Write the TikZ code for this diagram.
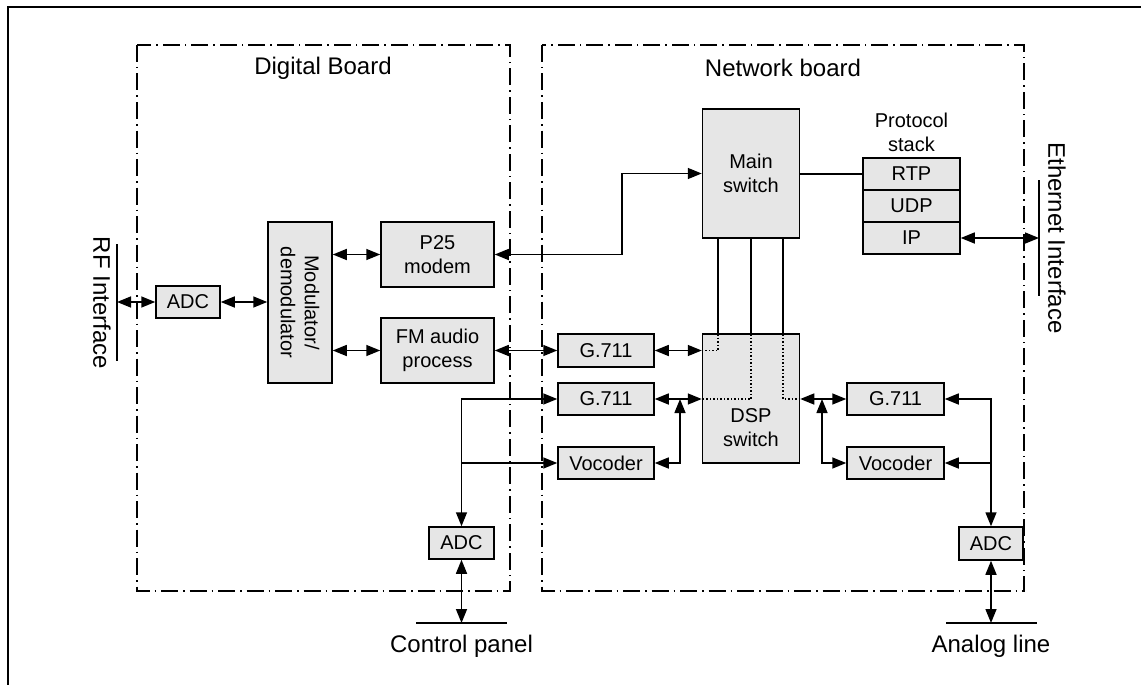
\documentclass[tikz,border=0pt]{standalone}
\usepackage{fontspec}
\setmainfont{Liberation Sans}
\usetikzlibrary{arrows.meta}
\definecolor{boxgray}{HTML}{E6E6E6}
\newcommand{\boxfont}{\fontsize{20}{24}\selectfont}
\newcommand{\bigfont}{\fontsize{24}{28}\selectfont}
\tikzset{
  wire/.style={line width=1.5pt},
  blk/.style={draw, fill=boxgray, line width=1.5pt, inner sep=0pt, align=center, font=\boxfont},
  lbl/.style={inner sep=0pt, align=center, font=\boxfont},
  biglbl/.style={inner sep=0pt, align=center, font=\bigfont},
  board/.style={line width=1.5pt, dash pattern=on 17pt off 5pt on 1.5pt off 5pt},
  inner/.style={line width=1.3pt, dash pattern=on 1.5pt off 2pt},
  >={Triangle[length=14pt,width=11pt]},
}
\begin{document}
\begin{tikzpicture}[x=1pt,y=-1pt]
\useasboundingbox (0,0) rectangle (1141,685);

% outer frame
\draw[line width=2.8pt] (8,685) -- (8,7) -- (1141,7);

% boards
\draw[board] (137,45) rectangle (510,591);
\draw[board] (542,45) rectangle (1024,591);
\node[biglbl] (digtitle) at (323,68) {Digital Board};
\node[biglbl] (nettitle) at (783,68) {Network board};

% digital board blocks
\node[blk, minimum width=64pt, minimum height=32pt] (adcL) at (188,302) {ADC};
\node[blk, minimum width=64pt, minimum height=161pt] (mod) at (300,302.5) {};
\node[lbl, rotate=-90] (modtext) at (mod.center) {Modulator/\\demodulator};
\node[blk, minimum width=113pt, minimum height=65pt] (p25) at (437.5,254.5) {P25\\modem};
\node[blk, minimum width=113pt, minimum height=65pt] (fm) at (437.5,350.5) {FM audio\\process};
\node[blk, minimum width=65pt, minimum height=32pt] (adcC) at (461.5,543) {ADC};

% network board blocks
\node[blk, minimum width=97pt, minimum height=129pt] (ms) at (751,173.5) {Main\\switch};
\node[blk, minimum width=97pt, minimum height=129pt] (dsp) at (751,398.5) {};
\node[lbl] (dsptext) at (751,428) {DSP\\switch};
\node[lbl] (stacktext) at (911.5,132) {Protocol\\stack};
\node[blk, minimum width=97pt, minimum height=32pt] (rtp) at (911.5,174) {RTP};
\node[blk, minimum width=97pt, minimum height=32pt] (udp) at (911.5,206) {UDP};
\node[blk, minimum width=97pt, minimum height=32pt] (ip) at (911.5,238) {IP};
\node[blk, minimum width=96pt, minimum height=33pt] (g1) at (606,350.5) {G.711};
\node[blk, minimum width=96pt, minimum height=32pt] (g2) at (606,399) {G.711};
\node[blk, minimum width=96pt, minimum height=32pt] (vocL) at (606,463) {Vocoder};
\node[blk, minimum width=97pt, minimum height=32pt] (g3) at (895.5,399) {G.711};
\node[blk, minimum width=97pt, minimum height=32pt] (vocR) at (895.5,463) {Vocoder};
\node[blk, minimum width=64pt, minimum height=33pt] (adcA) at (991,543.5) {ADC};

% external interfaces
\coordinate (rfTop) at (117,244);
\coordinate (rfBot) at (117,361);
\coordinate (rf) at (117,302);
\draw[wire] (rfTop) -- (rfBot);
\node[biglbl, rotate=-90] (rftext) at (102,303) {RF Interface};

\coordinate (ethTop) at (1039,180);
\coordinate (ethBot) at (1039,296);
\draw[wire] (ethTop) -- (ethBot);
\node[biglbl, rotate=-90] (ethtext) at (1057,238) {Ethernet Interface};

\coordinate (cpL) at (416,623);
\coordinate (cpR) at (507,623);
\draw[wire] (cpL) -- (cpR);
\node[biglbl] (cptext) at (461.5,646) {Control panel};

\coordinate (alL) at (946,623);
\coordinate (alR) at (1037,623);
\draw[wire] (alL) -- (alR);
\node[biglbl] (altext) at (991,646) {Analog line};

% digital board connections
\draw[wire,<->] (rf) -- (adcL.west);
\draw[wire,<->] (adcL.east) -- (adcL.east -| mod.west);
\draw[wire,<->] (p25.west -| mod.east) -- (p25.west);
\draw[wire,<->] (fm.west -| mod.east) -- (fm.west);
\draw[wire,<->] (p25.east) -- (622,254.5) |- (ms.west);
\draw[wire,<->] (fm.east) -- (g1.west);
\draw[wire,<->] (g2.west) -| (adcC.north);
\draw[wire,->] (adcC.north |- vocL.west) -- (vocL.west);
\draw[wire,<->] (adcC.south) -- (adcC.south |- cpL);

% network board connections
\draw[wire] (ms.east |- rtp.west) -- (rtp.west);
\draw[wire,<->] (ip.east) -- (ip.east -| ethTop);
\draw[wire,<->] (g1.east) -- (g1.east -| dsp.west);
\draw[wire,<->] (g2.east) -- (g2.east -| dsp.west);
\coordinate (jL) at (680,399);
\draw[wire,<->] (vocL.east) -| (jL);
\draw[wire,<->] (dsp.east |- g3.west) -- (g3.west);
\coordinate (jR) at (822,399);
\draw[wire,<->] (jR) |- (vocR.west);
\draw[wire,<->] (g3.east) -| (adcA.north);
\draw[wire,->] (adcA.north |- vocR.east) -- (vocR.east);
\draw[wire,<->] (adcA.south) -- (adcA.south |- alL);

% switch fabric between main switch and DSP switch
\draw[wire] (718,238) -- (718,334);
\draw[wire] (751,238) -- (751,334);
\draw[wire] (783,238) -- (783,334);
\draw[inner] (718,334) -- (718,350.5) -- (g1.east -| dsp.west);
\draw[inner] (751,334) -- (751,399) -- (g2.east -| dsp.west);
\draw[inner] (783,334) -- (783,399) -- (dsp.east |- g3.west);
\end{tikzpicture}
\end{document}
